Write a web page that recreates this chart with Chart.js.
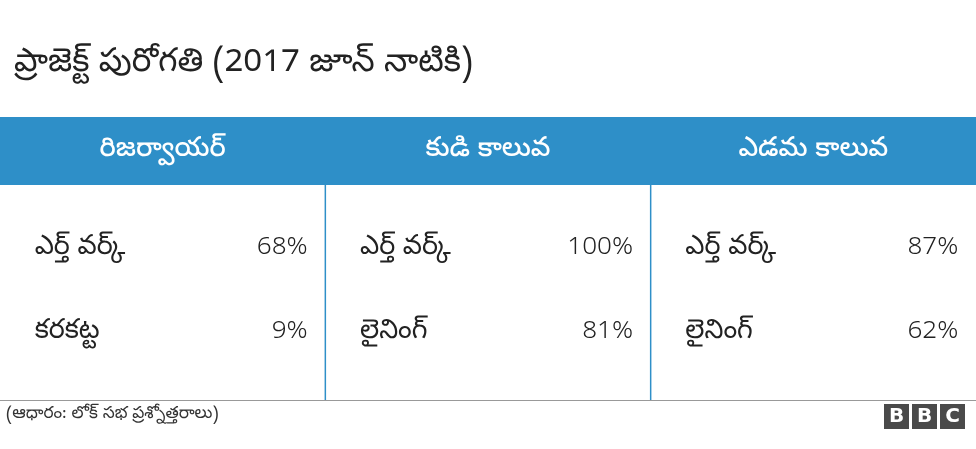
<!DOCTYPE html>
<html><head><meta charset="utf-8">
<script src="https://cdn.jsdelivr.net/npm/chart.js@4"></script>
<style>html,body{margin:0;padding:0;background:#fff}#w{width:976px;height:449px}</style>
</head><body><div id="w"><canvas id="c"></canvas></div>
<script>
const title = "ప్రాజెక్ట్ పురోగతి (2017 జూన్ నాటికి)";
const columns = ["రిజర్వాయర్", "కుడి కాలువ", "ఎడమ కాలువ"];
const rowLabels = [["ఎర్త్ వర్క్", "కరకట్ట"], ["ఎర్త్ వర్క్", "లైనింగ్"], ["ఎర్త్ వర్క్", "లైనింగ్"]];
const values = [[68, 9], [100, 81], [87, 62]];
const source = "(ఆధారం: లోక్ సభ ప్రశ్నోత్తరాలు)";
const F = '"Noto Sans Telugu","Noto Sans",sans-serif';

const pts = [];
values.forEach((col, i) => col.forEach((v, j) => pts.push({x: columns[i], y: j, v, label: rowLabels[i][j]})));

const tablePlugin = {
  id: 'table',
  beforeDraw(chart) {
    const c = chart.ctx, xs = chart.scales.x, ys = chart.scales.y;
    c.save();
    c.fillStyle = '#fff'; c.fillRect(0, 0, chart.width, chart.height);
    c.fillStyle = '#222'; c.font = '33px ' + F; c.textBaseline = 'middle'; c.textAlign = 'left';
    c.fillText(title, 14, 66);
    c.fillStyle = '#2e8fc8'; c.fillRect(0, 117, chart.width, 68);
    c.fillStyle = '#fff'; c.font = '500 27px ' + F; c.textAlign = 'center';
    columns.forEach((h, i) => c.fillText(h, xs.getPixelForValue(i), 152));
    c.strokeStyle = '#2e8fc8'; c.lineWidth = 1.5;
    for (let i = 1; i < columns.length; i++) {
      const x = (xs.getPixelForValue(i - 1) + xs.getPixelForValue(i)) / 2;
      c.beginPath(); c.moveTo(x, 185); c.lineTo(x, 400); c.stroke();
    }
    c.strokeStyle = '#999'; c.lineWidth = 1;
    c.beginPath(); c.moveTo(0, 400.5); c.lineTo(chart.width, 400.5); c.stroke();
    c.fillStyle = '#333'; c.font = '17px ' + F; c.textAlign = 'left';
    c.fillText(source, 6, 416);
    ['B','B','C'].forEach((l, i) => {
      const bx = 884 + i * 28;
      c.fillStyle = '#4a4a4a'; c.fillRect(bx, 404, 25, 25);
      c.fillStyle = '#fff'; c.font = 'bold 20px "DejaVu Sans",sans-serif'; c.textAlign = 'center';
      c.fillText(l, bx + 12.5, 417);
    });
    c.fillStyle = '#222';
    pts.forEach(p => {
      const cx = xs.getPixelForValue(columns.indexOf(p.x));
      const y = ys.getPixelForValue(p.y);
      c.font = '27px ' + F;
      c.textAlign = 'left'; c.fillText(p.label, cx - 128, y);
      c.font = '300 26px ' + F;
      c.textAlign = 'right'; c.fillText(p.v + '%', cx + 145, y);
    });
    c.restore();
  }
};

new Chart(document.getElementById('c'), {
  type: 'scatter',
  data: {datasets: [{data: pts, pointRadius: 0}]},
  options: {
    responsive: true, maintainAspectRatio: false, animation: false,
    layout: {padding: {top: 250, bottom: 115, left: 0, right: 0}},
    plugins: {legend: {display: false}, tooltip: {enabled: false}},
    scales: {
      x: {type: 'category', labels: columns, offset: true, display: false},
      y: {type: 'linear', min: 0, max: 1, reverse: true, display: false}
    }
  },
  plugins: [tablePlugin]
});
</script></body></html>
